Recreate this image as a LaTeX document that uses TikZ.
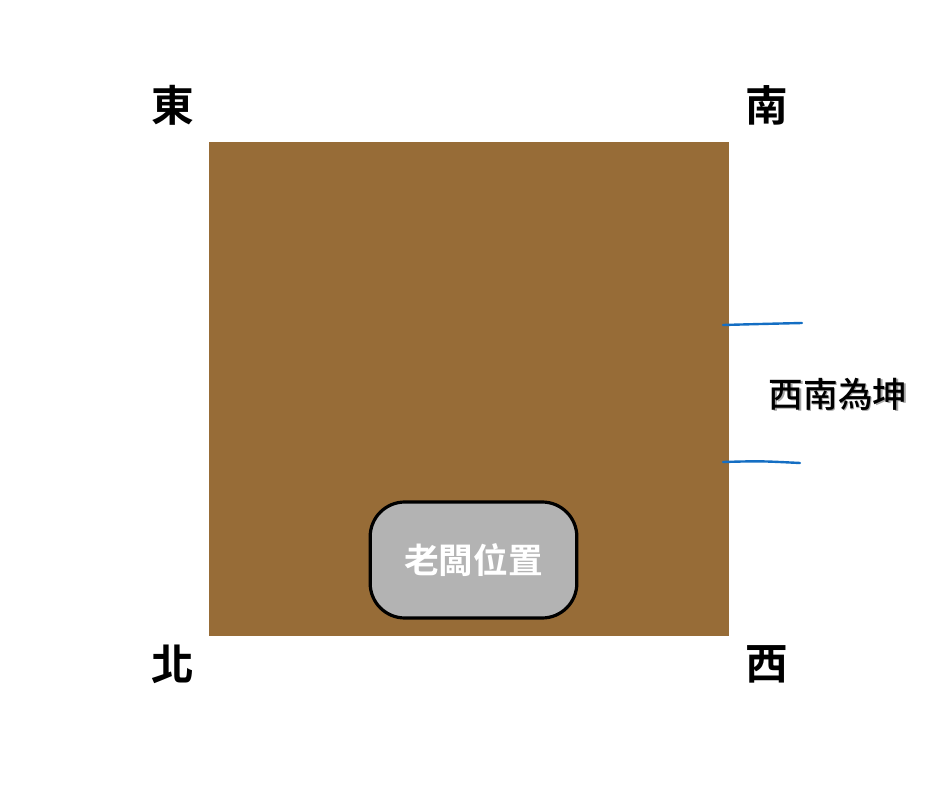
\documentclass[tikz,border=0pt]{standalone}
\usepackage{fontspec}
\newfontfamily\cjk{Noto Sans CJK TC Medium}
\newfontfamily\cjkb{Noto Sans CJK TC Bold}
\definecolor{earth}{RGB}{151,108,55}
\definecolor{seat}{RGB}{179,179,179}
\definecolor{pen}{RGB}{20,110,195}

\begin{document}
\begin{tikzpicture}[x=0.75pt,y=-0.75pt,
  dir/.style={font=\cjkb\fontsize{32}{36}\selectfont,inner sep=0pt},
  boss/.style={draw=black,line width=2.4pt,fill=seat,rounded corners=26pt,minimum width=155pt,minimum height=87pt,text=white,font=\cjkb\fontsize{26}{30}\selectfont},
  penline/.style={draw=pen,line width=1.8pt,line cap=round}]
\useasboundingbox (0,0) rectangle (940,788);
\fill[earth] (209,142) rectangle (729,636);
\node[dir] (east) at (173,105) {東};
\node[dir] (south) at (767,105) {南};
\node[dir] (north) at (173,664) {北};
\node[dir] (west) at (767,664) {西};
\node[boss] (bossbox) at (473.5,560) {老闆位置};
% blue marks on the south-west side
\draw[penline] (723,325) .. controls (760,324) .. (802,323);
\draw[penline] (723,462) .. controls (760,461) .. (800,463);
\node[font=\cjk\fontsize{26}{30}\selectfont,text=gray!70,inner sep=0pt] at (839.5,395.5) {西南為坤};
\node[font=\cjk\fontsize{26}{30}\selectfont,inner sep=0pt] (kun) at (838,394) {西南為坤};
\end{tikzpicture}
\end{document}
